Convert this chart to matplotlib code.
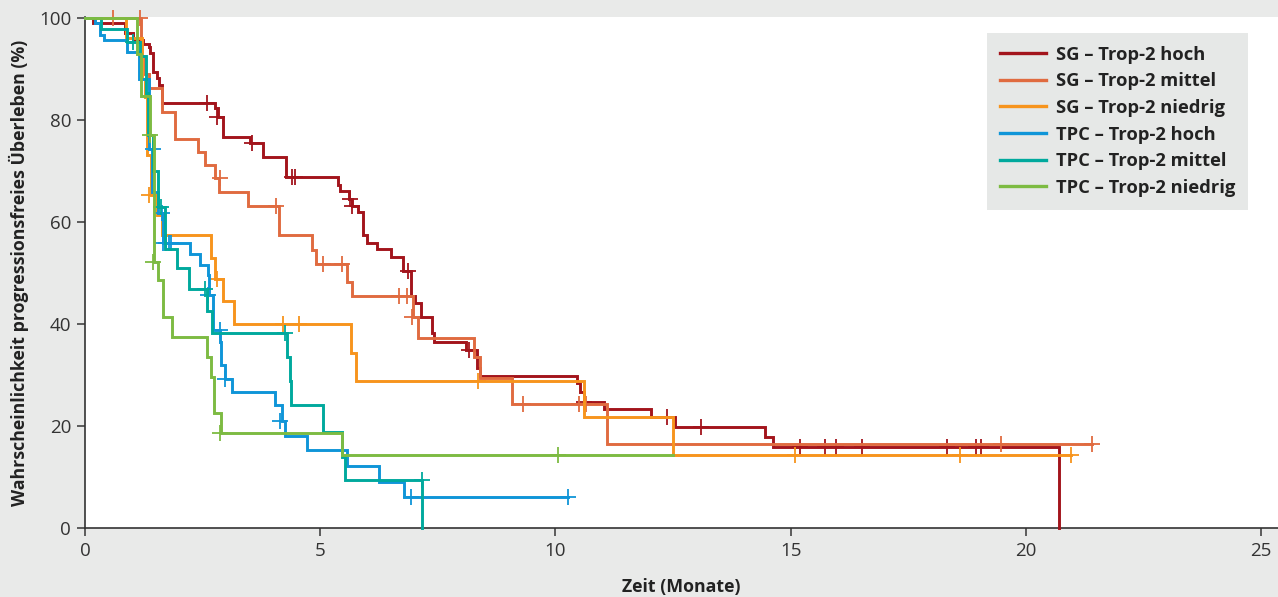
import matplotlib
matplotlib.use("Agg")
import matplotlib.pyplot as plt

plt.rcParams['font.family'] = ['Open Sans', 'DejaVu Sans']

# ---------------- data ----------------
labels = ["SG – Trop-2 hoch", "SG – Trop-2 mittel", "SG – Trop-2 niedrig",
          "TPC – Trop-2 hoch", "TPC – Trop-2 mittel", "TPC – Trop-2 niedrig"]
colors = ["#a3141c", "#e06b40", "#f7941d", "#0f95d8", "#00a99d", "#7dbb42"]

sg_hoch_t = [0, 0.18, 0.85, 1.03, 1.24, 1.35, 1.38, 1.45, 1.52, 1.58, 1.63, 2.76, 2.83, 2.93,
             3.51, 3.79, 4.27, 5.37, 5.42, 5.62, 5.67, 5.81, 5.90, 5.99, 6.20, 6.50, 6.75,
             6.94, 7.01, 7.14, 7.38, 7.41, 8.11, 8.33, 8.40, 10.45, 10.52, 10.60, 11.03,
             12.04, 12.55, 14.46, 14.63, 20.71]
sg_hoch_s = [100, 99.0, 97.0, 95.7, 95.0, 94.4, 93.1, 89.5, 88.2, 86.9, 83.3, 82.3, 80.6, 76.7,
             75.4, 72.8, 68.9, 67.3, 66.1, 64.6, 63.1, 62.0, 57.5, 55.9, 54.8, 53.2, 50.4,
             45.4, 44.1, 41.3, 38.2, 36.5, 35.0, 31.3, 29.8, 28.5, 26.7, 24.7, 23.4,
             21.8, 19.8, 17.8, 15.8, 0]
sg_hoch_ct = [2.59, 2.80, 3.55, 4.39, 4.46, 5.64, 5.68, 6.87, 8.17, 10.61, 12.37, 13.09,
              15.21, 15.73, 15.97, 16.51, 18.32, 18.95, 19.05]
sg_hoch_cs = [83.3, 80.6, 75.4, 68.9, 68.9, 64.6, 63.1, 50.4, 35.0, 24.7, 21.8, 19.8,
              15.8, 15.8, 15.8, 15.8, 15.8, 15.8, 15.8]

sg_mittel_t = [0, 1.18, 1.28, 1.35, 1.63, 1.91, 2.41, 2.55, 2.76, 2.85, 3.47, 4.13, 4.82, 4.91,
               5.56, 5.68, 6.97, 7.07, 8.26, 8.40, 9.07, 11.09, 21.40]
sg_mittel_s = [100, 92.5, 89.0, 86.3, 81.6, 76.2, 73.8, 71.2, 68.6, 65.9, 63.2, 57.5, 54.6, 51.7,
               48.3, 45.4, 41.3, 37.2, 33.6, 29.4, 24.4, 16.5, 16.5]
sg_mittel_ct = [0.60, 1.17, 2.87, 4.07, 5.05, 5.46, 6.68, 6.85, 6.95, 9.32, 10.51, 10.66, 19.47, 21.40]
sg_mittel_cs = [100, 100, 68.6, 63.2, 51.7, 51.7, 45.4, 45.4, 41.3, 24.4, 24.4, 24.4, 16.5, 16.5]

sg_niedrig_t = [0, 0.88, 1.22, 1.27, 1.31, 1.40, 1.52, 1.64, 2.68, 2.76, 2.94, 3.17, 5.65, 5.76,
                10.60, 12.51, 20.97]
sg_niedrig_s = [100, 96.0, 88.0, 84.5, 73.1, 65.3, 61.4, 57.5, 52.9, 48.8, 44.6, 40.0, 34.4, 28.8,
                21.7, 14.3, 14.3]
sg_niedrig_ct = [1.35, 2.80, 4.20, 4.55, 8.36, 15.10, 18.60, 20.97]
sg_niedrig_cs = [65.3, 48.8, 40.0, 40.0, 28.8, 14.3, 14.3, 14.3]

tpc_hoch_t = [0, 0.21, 0.32, 0.40, 0.89, 1.15, 1.37, 1.42, 1.56, 1.66, 2.23, 2.44, 2.62, 2.64,
              2.73, 2.87, 2.90, 2.98, 3.12, 4.04, 4.18, 4.25, 4.71, 5.56, 6.24, 6.79, 10.27]
tpc_hoch_s = [100, 99.0, 96.7, 95.7, 93.4, 88.0, 74.4, 65.9, 61.7, 55.8, 53.7, 51.6, 49.6, 45.7,
              38.8, 36.5, 32.0, 29.2, 26.7, 24.2, 21.0, 18.0, 15.3, 12.2, 9.1, 6.0, 6.0]
tpc_hoch_ct = [1.45, 1.64, 1.66, 1.72, 1.78, 1.83, 2.62, 2.86, 2.98, 4.15, 6.94, 10.27]
tpc_hoch_cs = [74.4, 61.7, 55.8, 55.8, 55.8, 55.8, 45.7, 38.8, 29.2, 21.0, 6.0, 6.0]

tpc_mittel_t = [0, 0.35, 0.90, 1.17, 1.30, 1.33, 1.45, 1.55, 1.70, 1.95, 2.22, 2.59, 2.69, 4.29,
                4.36, 4.38, 5.07, 5.47, 5.53, 7.16]
tpc_mittel_s = [100, 97.8, 95.3, 92.5, 85.2, 77.0, 70.0, 63.0, 54.8, 50.9, 46.8, 42.5, 38.2, 33.5,
                28.8, 24.1, 18.9, 14.0, 9.5, 0]
tpc_mittel_ct = [1.03, 1.62, 2.55, 4.25, 7.16]
tpc_mittel_cs = [95.3, 63.0, 46.8, 38.2, 9.5]

tpc_niedrig_t = [0, 1.10, 1.20, 1.38, 1.47, 1.56, 1.66, 1.86, 2.59, 2.67, 2.74, 2.89, 5.47, 12.50]
tpc_niedrig_s = [100, 92.9, 84.7, 77.1, 52.2, 48.6, 41.4, 37.4, 33.6, 29.7, 22.5, 18.6, 14.3, 14.3]
tpc_niedrig_ct = [1.38, 1.45, 2.87, 10.06]
tpc_niedrig_cs = [77.1, 52.2, 18.6, 14.3]

x_ticks = [0, 5, 10, 15, 20, 25]
y_ticks = [0, 20, 40, 60, 80, 100]

series = [
    (sg_hoch_t, sg_hoch_s, sg_hoch_ct, sg_hoch_cs),
    (sg_mittel_t, sg_mittel_s, sg_mittel_ct, sg_mittel_cs),
    (sg_niedrig_t, sg_niedrig_s, sg_niedrig_ct, sg_niedrig_cs),
    (tpc_hoch_t, tpc_hoch_s, tpc_hoch_ct, tpc_hoch_cs),
    (tpc_mittel_t, tpc_mittel_s, tpc_mittel_ct, tpc_mittel_cs),
    (tpc_niedrig_t, tpc_niedrig_s, tpc_niedrig_ct, tpc_niedrig_cs),
]

# ---------------- figure ----------------
W, H = 1278, 597
fig = plt.figure(figsize=(W / 100, H / 100), dpi=100, facecolor="#e9eae9")
ax = fig.add_axes([85 / W, (H - 528) / H, (W - 85) / W, (528 - 17) / H])
ax.set_facecolor("white")

handles = []
for i in reversed(range(len(series))):
    t, s, ct, cs = series[i]
    ax.step(t, s, where="post", color=colors[i], lw=2.1, zorder=3 + i * 0.1,
            solid_joinstyle="miter", clip_on=False)
    ax.plot(ct, cs, linestyle="none", marker="+", markersize=11, mew=1.3,
            color=colors[i], zorder=3 + i * 0.1, clip_on=False)
for i in range(len(series)):
    h, = ax.plot([], [], color=colors[i], lw=2.4, label=labels[i])
    handles.append(h)

ax.set_xlim(0, (W - 85) / 47.04)
ax.set_ylim(0, 100 + 1 / 5.1)
ax.set_xticks(x_ticks)
ax.set_yticks(y_ticks)
ax.tick_params(axis="both", direction="out", length=6, width=1.2, color="#444444",
               labelsize=13.5, labelcolor="#333333", pad=4)
for sp in ["top", "right"]:
    ax.spines[sp].set_visible(False)
for sp in ["left", "bottom"]:
    ax.spines[sp].set_color("#333333")
    ax.spines[sp].set_linewidth(1.2)

ax.set_xlabel("Zeit (Monate)", fontsize=12.8, fontweight="bold", color="#222222", labelpad=13)
ax.set_ylabel("Wahrscheinlichkeit progressionsfreies Überleben (%)", fontsize=12.8,
              fontweight="bold", color="#222222", labelpad=7)

leg = ax.legend(handles=handles, loc="upper right", bbox_to_anchor=(0.975, 0.969),
                frameon=True, fancybox=False, facecolor="#e6e8e7", edgecolor="none",
                framealpha=1, prop={"weight": "bold", "size": 13.2}, handlelength=2.5,
                handletextpad=0.55, labelspacing=0.47, borderpad=0.7, borderaxespad=0)
for txt in leg.get_texts():
    txt.set_color("#222222")

fig.savefig("out.png", dpi=100, facecolor=fig.get_facecolor())
